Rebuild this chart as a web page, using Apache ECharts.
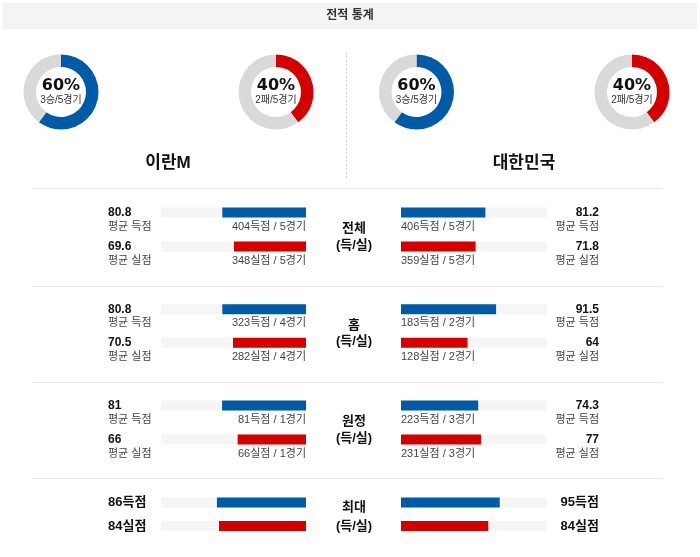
<!DOCTYPE html>
<html><head><meta charset="utf-8">
<script src="https://cdn.jsdelivr.net/npm/echarts@6/dist/echarts.min.js"></script>
<style>html,body{margin:0;padding:0;background:#fff}#c{width:700px;height:557px}</style>
</head><body><div id="c"></div>
<script>
// ---- data ----
var title = '전적 통계';
var teams = ['이란M', '대한민국'];
var sections = ['전체', '홈', '원정', '최대'];
var winPct = [60, 60];
var lossPct = [40, 40];
var wins = [3, 3];
var losses = [2, 2];
var games = [5, 5];
var iranScored = [80.8, 80.8, 81, 86];
var iranConceded = [69.6, 70.5, 66, 84];
var korScored = [81.2, 91.5, 74.3, 95];
var korConceded = [71.8, 64, 77, 84];
var iranScoredText = ['404득점 / 5경기', '323득점 / 4경기', '81득점 / 1경기'];
var iranConcededText = ['348실점 / 5경기', '282실점 / 4경기', '66실점 / 1경기'];
var korScoredText = ['406득점 / 5경기', '183득점 / 2경기', '223득점 / 3경기'];
var korConcededText = ['359실점 / 5경기', '128실점 / 2경기', '231실점 / 3경기'];
var axisMax = 140;

// ---- style/layout ----
var BLUE = '#005ba6', RED = '#d40000', GRAY = '#d9d9d9', BG = '#f5f5f5';
var FONT = '"Liberation Sans", Arial, "Noto Sans CJK KR", sans-serif';
var PFONT = '"DejaVu Sans", "Noto Sans CJK KR", sans-serif';
var row1 = [212.5, 309.3, 405.5, 502.5];
var rowGap = [34, 33.5, 34, 23.5];
var LX = 161, LW = 145, RX = 401, RW = 145.5;

var chart = echarts.init(document.getElementById('c'), null, {renderer: 'canvas'});

var grids = [], xAxes = [], yAxes = [], series = [], graphics = [];

function txt(x, y, s, font, fill, align) {
  return {type: 'text', x: x, y: y, silent: true,
    style: {text: s, fill: fill, font: font, align: align || 'center', verticalAlign: 'middle'}};
}

// header
graphics.push({type: 'rect', silent: true, shape: {x: 3, y: 3, width: 694, height: 26}, style: {fill: '#f4f4f4'}});
graphics.push(txt(350, 16, title, 'bold 12px ' + FONT, '#333', 'center'));

// separators
for (var k = 0; k < 32; k++) {
  graphics.push({type: 'rect', silent: true, shape: {x: 346, y: 52 + k * 4, width: 1, height: 2}, style: {fill: '#d6d6d6'}});
}
[188, 286, 382, 478].forEach(function (y) {
  graphics.push({type: 'rect', silent: true, shape: {x: 33, y: y, width: 629, height: 1}, style: {fill: '#e6e6e6'}});
});

// donuts
var donutCenters = [[61, 92], [276, 92], [416.5, 92], [632, 92]];
for (var t = 0; t < 2; t++) {
  var cw = donutCenters[t * 2], cl = donutCenters[t * 2 + 1];
  series.push({type: 'pie', silent: true, center: [cw[0], cw[1]], radius: [25, 37.5], startAngle: 90, clockwise: true,
    label: {show: false}, labelLine: {show: false},
    data: [{value: wins[t], itemStyle: {color: BLUE}}, {value: games[t] - wins[t], itemStyle: {color: GRAY}}]});
  series.push({type: 'pie', silent: true, center: [cl[0], cl[1]], radius: [25, 37.5], startAngle: 90, clockwise: true,
    label: {show: false}, labelLine: {show: false},
    data: [{value: losses[t], itemStyle: {color: RED}}, {value: games[t] - losses[t], itemStyle: {color: GRAY}}]});
  graphics.push(txt(cw[0], cw[1] - 6, winPct[t] + '%', 'bold 16px ' + PFONT, '#111'));
  graphics.push(txt(cw[0], cw[1] + 8, wins[t] + '승/' + games[t] + '경기', '10px ' + FONT, '#333'));
  graphics.push(txt(cl[0], cl[1] - 6, lossPct[t] + '%', 'bold 16px ' + PFONT, '#111'));
  graphics.push(txt(cl[0], cl[1] + 8, losses[t] + '패/' + games[t] + '경기', '10px ' + FONT, '#333'));
}
graphics.push(txt(168, 163, teams[0], 'bold 17px ' + FONT, '#111'));
graphics.push(txt(524, 163, teams[1], 'bold 17px ' + FONT, '#111'));

// bar sections
for (var s = 0; s < 4; s++) {
  var y1 = row1[s], g = rowGap[s];
  var gTop = y1 - g / 2, gH = g * 2;
  var gi = grids.length;
  grids.push({left: LX, top: gTop, width: LW, height: gH});
  grids.push({left: RX, top: gTop, width: RW, height: gH});
  xAxes.push({gridIndex: gi, type: 'value', min: 0, max: axisMax, inverse: true, show: false});
  xAxes.push({gridIndex: gi + 1, type: 'value', min: 0, max: axisMax, show: false});
  yAxes.push({gridIndex: gi, type: 'category', data: ['득', '실'], inverse: true, show: false});
  yAxes.push({gridIndex: gi + 1, type: 'category', data: ['득', '실'], inverse: true, show: false});
  series.push({type: 'bar', barWidth: 10, silent: true, showBackground: true, backgroundStyle: {color: BG},
    xAxisIndex: gi, yAxisIndex: gi,
    data: [{value: iranScored[s], itemStyle: {color: BLUE}}, {value: iranConceded[s], itemStyle: {color: RED}}]});
  series.push({type: 'bar', barWidth: 10, silent: true, showBackground: true, backgroundStyle: {color: BG},
    xAxisIndex: gi + 1, yAxisIndex: gi + 1,
    data: [{value: korScored[s], itemStyle: {color: BLUE}}, {value: korConceded[s], itemStyle: {color: RED}}]});

  var y2 = y1 + g;
  var cy = s < 3 ? y1 + 16 : y1 + 5;
  graphics.push(txt(354, cy, sections[s], 'bold 13px ' + FONT, '#111'));
  graphics.push(txt(354, s < 3 ? y2 - 1 : y2, '(득/실)', 'bold 13px ' + FONT, '#111'));

  if (s < 3) {
    graphics.push(txt(108, y1, String(iranScored[s]), 'bold 12px ' + FONT, '#111', 'left'));
    graphics.push(txt(108, y2, String(iranConceded[s]), 'bold 12px ' + FONT, '#111', 'left'));
    graphics.push(txt(599, y1, String(korScored[s]), 'bold 12px ' + FONT, '#111', 'right'));
    graphics.push(txt(599, y2, String(korConceded[s]), 'bold 12px ' + FONT, '#111', 'right'));
    graphics.push(txt(108, y1 + 14, '평균 득점', '11px ' + FONT, '#444', 'left'));
    graphics.push(txt(108, y2 + 14, '평균 실점', '11px ' + FONT, '#444', 'left'));
    graphics.push(txt(599, y1 + 14, '평균 득점', '11px ' + FONT, '#444', 'right'));
    graphics.push(txt(599, y2 + 14, '평균 실점', '11px ' + FONT, '#444', 'right'));
    graphics.push(txt(306, y1 + 14, iranScoredText[s], '11px ' + FONT, '#444', 'right'));
    graphics.push(txt(306, y2 + 14, iranConcededText[s], '11px ' + FONT, '#444', 'right'));
    graphics.push(txt(401, y1 + 14, korScoredText[s], '11px ' + FONT, '#444', 'left'));
    graphics.push(txt(401, y2 + 14, korConcededText[s], '11px ' + FONT, '#444', 'left'));
  } else {
    graphics.push(txt(108, y1, iranScored[s] + '득점', 'bold 13px ' + FONT, '#111', 'left'));
    graphics.push(txt(108, y2, iranConceded[s] + '실점', 'bold 13px ' + FONT, '#111', 'left'));
    graphics.push(txt(599, y1, korScored[s] + '득점', 'bold 13px ' + FONT, '#111', 'right'));
    graphics.push(txt(599, y2, korConceded[s] + '실점', 'bold 13px ' + FONT, '#111', 'right'));
  }
}

chart.setOption({animation: false, grid: grids, xAxis: xAxes, yAxis: yAxes, series: series,
  graphic: {elements: graphics}});
</script></body></html>
